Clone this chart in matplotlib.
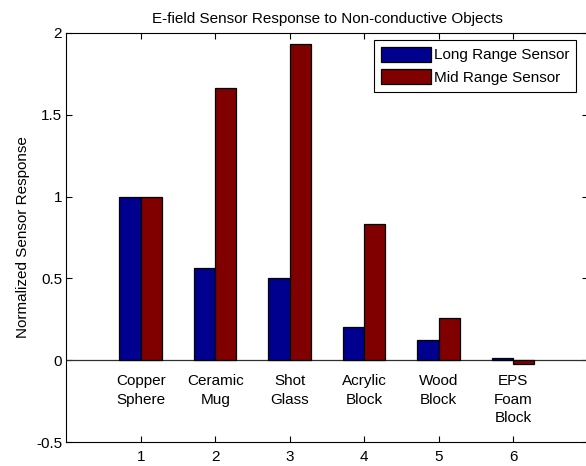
import matplotlib
matplotlib.use("Agg")
import matplotlib.pyplot as plt
import numpy as np

plt.rcParams['font.family'] = ['Liberation Sans', 'DejaVu Sans']

# normalized response per object (copper sphere = 1)
objects = ["Copper\nSphere", "Ceramic\nMug", "Shot\nGlass", "Acrylic\nBlock",
           "Wood\nBlock", "EPS\nFoam\nBlock"]
long_range = [1.0, 0.565, 0.5, 0.2, 0.125, 0.015]
mid_range = [1.0, 1.665, 1.935, 0.83, 0.26, -0.025]
series_names = ["Long Range Sensor", "Mid Range Sensor"]

x = np.arange(1, len(objects) + 1)
w = 2 / 7.0  # grouped bar width for two series

fig = plt.figure(figsize=(5.86, 4.66), dpi=100)
ax = fig.add_axes([66.2 / 586, 24 / 466, 521.5 / 586, 409 / 466])

fs = 11
ax.bar(x - w / 2, long_range, w, color=(0, 0, 0.5625), edgecolor='k',
       linewidth=0.9, label=series_names[0], zorder=3)
ax.bar(x + w / 2, mid_range, w, color=(0.5, 0, 0), edgecolor='k',
       linewidth=0.9, label=series_names[1], zorder=3)
ax.axhline(0, color='#303030', linewidth=0.9, zorder=2)

# object names written under each group
for xi, name in zip(x, objects):
    ax.text(xi, -0.085, name, ha='center', va='top', fontsize=fs,
            linespacing=1.42)

ax.set_xlim(0, 7)
ax.set_ylim(-0.5, 2)
ax.set_xticks(x)
ax.set_yticks([-0.5, 0, 0.5, 1, 1.5, 2])
ax.set_yticklabels(["-0.5", "0", "0.5", "1", "1.5", "2"])
ax.tick_params(direction='in', length=4, width=0.8, labelsize=fs,
               top=True, right=True)
ax.tick_params(axis='x', pad=5.5)
ax.tick_params(axis='y', pad=3)
for s in ax.spines.values():
    s.set_linewidth(0.8)

ax.set_title("E-field Sensor Response to Non-conductive Objects",
             fontsize=fs, pad=7)
ax.set_ylabel("Normalized Sensor Response", fontsize=fs, labelpad=4)

leg = ax.legend(loc='upper right',
                bbox_to_anchor=((576 - 66.2) / 521.5, (442 - 40) / 409),
                borderaxespad=0, fontsize=fs, fancybox=False, framealpha=1,
                edgecolor='k', handlelength=3.25, handleheight=1.1,
                handletextpad=0.2, labelspacing=0.45, borderpad=0.45)
leg.get_frame().set_linewidth(0.8)

fig.savefig("out.png", dpi=100)
